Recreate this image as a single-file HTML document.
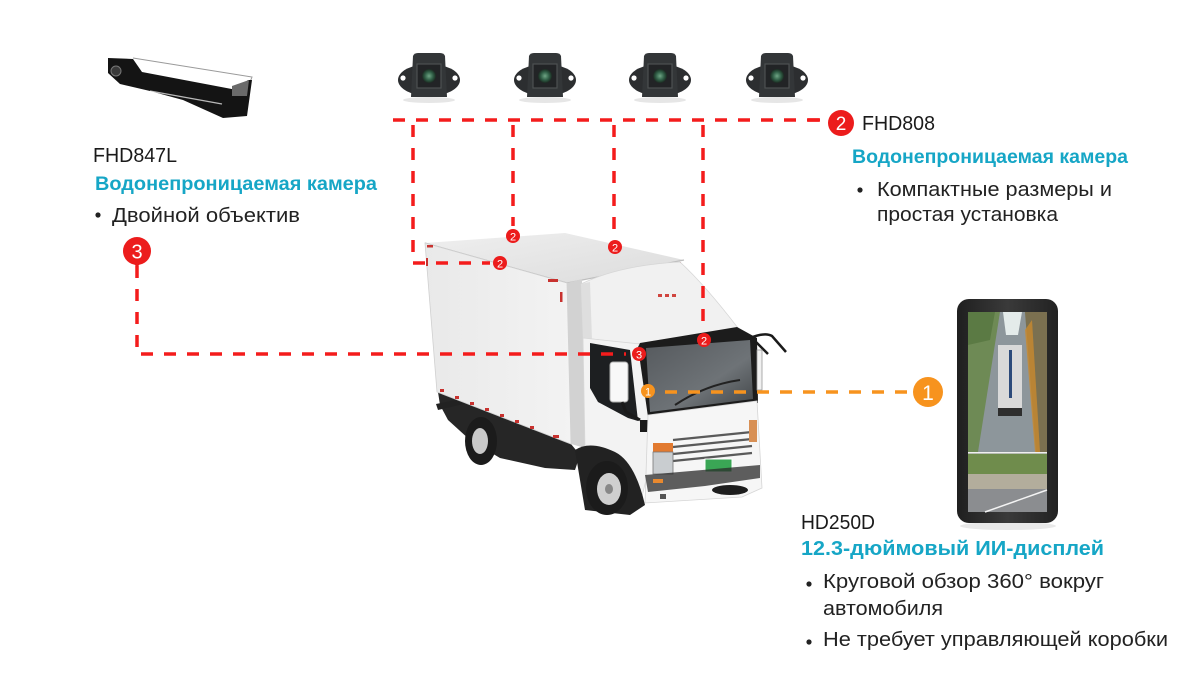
<!DOCTYPE html>
<html>
<head>
<meta charset="utf-8">
<style>
html,body{margin:0;padding:0;background:#fff;}
body{width:1200px;height:700px;overflow:hidden;position:relative;font-family:"Liberation Sans","DejaVu Sans",sans-serif;}
svg{position:absolute;left:0;top:0;}
</style>
</head>
<body>
<svg width="1200" height="700" viewBox="0 0 1200 700" xmlns="http://www.w3.org/2000/svg">
  <defs>
    <linearGradient id="boxside" x1="0" y1="0" x2="1" y2="0">
      <stop offset="0" stop-color="#e9e9e9"/>
      <stop offset="1" stop-color="#f3f3f3"/>
    </linearGradient>
    <linearGradient id="boxtop" x1="0" y1="0" x2="1" y2="1">
      <stop offset="0" stop-color="#efefef"/>
      <stop offset="1" stop-color="#dcdcdc"/>
    </linearGradient>
    <linearGradient id="wind" x1="0" y1="0" x2="1" y2="1">
      <stop offset="0" stop-color="#55595d"/>
      <stop offset="0.6" stop-color="#6e7377"/>
      <stop offset="1" stop-color="#3e4245"/>
    </linearGradient>
    <linearGradient id="disp" x1="0" y1="0" x2="1" y2="0">
      <stop offset="0" stop-color="#1f1f1f"/>
      <stop offset="0.5" stop-color="#3a3a3a"/>
      <stop offset="1" stop-color="#222"/>
    </linearGradient>
    <radialGradient id="lens">
      <stop offset="0" stop-color="#6fa585"/>
      <stop offset="0.6" stop-color="#2f5d45"/>
      <stop offset="1" stop-color="#1c2a22"/>
    </radialGradient>
  </defs>

  <!-- Top-left camera FHD847L -->
  <g>
    <path d="M133,58 L252,77 L250,82 L236,88" fill="#fff" stroke="#9a9a9a" stroke-width="1"/>
    <polygon points="108,58 133,59 142,72 237,90 248,80 252,80 247,116 223,118 183,100 150,91 120,84 108,73" fill="#141414"/>
    <polygon points="232,86 249,80 247,96 232,96" fill="#6a6a6a"/>
    <circle cx="116" cy="71" r="5" fill="#3a3a3a" stroke="#777" stroke-width="1"/>
    <line x1="150" y1="91" x2="222" y2="104" stroke="#fff" stroke-width="1.2" opacity="0.7"/>
  </g>

  <!-- Four FHD808 cameras -->
  <g id="cam">
    <ellipse cx="429" cy="100" rx="26" ry="3" fill="#e6e6e6"/>
    <ellipse cx="429" cy="80" rx="31" ry="16" fill="#2c2e30"/>
    <path d="M413,56 Q414,53 418,53 L440,53 Q444,53 445,56 L447,97 L411,97 Z" fill="#333638"/>
    <rect x="417" y="64" width="24" height="24" fill="#222426" stroke="#4d5052" stroke-width="1.2"/>
    <circle cx="429" cy="76" r="7" fill="url(#lens)"/>
    <circle cx="403" cy="78" r="2.6" fill="#fff"/>
    <circle cx="455" cy="78" r="2.6" fill="#fff"/>
  </g>
  <use href="#cam" x="116" y="0"/>
  <use href="#cam" x="231" y="0"/>
  <use href="#cam" x="348" y="0"/>

  <!-- TRUCK -->
  <g>
    <!-- chassis -->
    <polygon points="438,392 571,444 580,455 575,470 545,468 500,458 470,440 448,420 440,405" fill="#262626"/>
    <polygon points="436,404 466,398 468,403 438,410" fill="#222"/>
    <!-- rear wheel -->
    <ellipse cx="481" cy="441" rx="16" ry="24" fill="#1b1b1b"/>
    <ellipse cx="480" cy="441" rx="8" ry="13" fill="#c9c9c9"/>
    <!-- box top -->
    <polygon points="425,243 565,233 684,260 567,283" fill="url(#boxtop)"/>
    <polyline points="425,243 567,283 684,260" fill="none" stroke="#bdbdbd" stroke-width="1.2"/>
    <!-- box side -->
    <polygon points="425,243 567,283 571,444 437,392" fill="url(#boxside)" stroke="#d0d0d0" stroke-width="0.8"/>
    <!-- box front strip -->
    <polygon points="567,283 582,279 585,448 571,444" fill="#d2d2d2"/>
    <!-- red marker lights -->
    <g fill="#c8322f">
      <rect x="427" y="245" width="6" height="2.5"/>
      <rect x="548" y="279" width="10" height="3"/>
      <rect x="560" y="292" width="2.5" height="10"/>
      <rect x="426" y="258" width="2" height="8"/>
      <rect x="440" y="389" width="4" height="3"/>
      <rect x="455" y="396" width="4" height="3"/>
      <rect x="470" y="402" width="4" height="3"/>
      <rect x="485" y="408" width="4" height="3"/>
      <rect x="500" y="414" width="4" height="3"/>
      <rect x="515" y="420" width="4" height="3"/>
      <rect x="530" y="426" width="4" height="3"/>
      <rect x="553" y="435" width="6" height="3"/>
      <rect x="677" y="262" width="4" height="2.5"/>
    </g>
    <!-- cab spoiler -->
    <path d="M581,284 Q620,265 680,262 Q705,285 738,328 L636,344 L583,338 Z" fill="#f1f1f1" stroke="#d6d6d6" stroke-width="0.8"/>
    <polygon points="581,284 590,282 592,340 583,338" fill="#dedede"/>
    <g fill="#d0453f"><rect x="658" y="294" width="4" height="3"/><rect x="665" y="294" width="4" height="3"/><rect x="672" y="294" width="4" height="3"/></g>
    <!-- cab side -->
    <polygon points="583,338 640,344 650,413 646,480 640,505 600,478 585,448" fill="#f3f3f3" stroke="#d8d8d8" stroke-width="0.8"/>
    <!-- side window -->
    <polygon points="590,343 630,350 638,421 628,418 598,402 590,388" fill="#1d1f21"/>
    <!-- mirror -->
    <rect x="610" y="362" width="18" height="40" rx="3" fill="#f8f8f8" stroke="#b0b0b0" stroke-width="1"/>
    <path d="M622,402 L626,412 L640,420" stroke="#1a1a1a" stroke-width="3" fill="none"/>
    <rect x="640" y="420" width="10" height="12" fill="#1a1a1a"/>
    <!-- windshield frame and glass -->
    <polygon points="640,343 737,327 757,338 758,403 648,417 638,347" fill="#1c1c1c"/>
    <polygon points="646,348 750,340 753,399 650,412" fill="url(#wind)"/>
    <path d="M675,405 Q705,385 740,380" stroke="#222" stroke-width="2" fill="none"/>
    <!-- cab front lower -->
    <polygon points="648,415 757,401 762,488 742,497 645,503" fill="#f6f6f6" stroke="#d5d5d5" stroke-width="0.8"/>
    <!-- grille -->
    <g stroke="#5a5a5a" stroke-width="2.2">
      <line x1="673" y1="440" x2="752" y2="432"/>
      <line x1="673" y1="447" x2="752" y2="439"/>
      <line x1="673" y1="454" x2="752" y2="446"/>
      <line x1="673" y1="461" x2="752" y2="453"/>
    </g>
    <!-- headlights -->
    <rect x="653" y="443" width="20" height="9" fill="#e27a30"/>
    <rect x="653" y="452" width="20" height="22" fill="#c9cdd0" stroke="#777" stroke-width="0.8"/>
    <rect x="749" y="420" width="8" height="22" fill="#d89055"/>
    <!-- plate -->
    <rect x="705" y="459" width="27" height="13" fill="#3aa655" stroke="#fff" stroke-width="1"/>
    <!-- bumper -->
    <polygon points="645,475 760,465 760,478 705,486 648,492" fill="#2a2a2a" opacity="0.75"/>
    <rect x="660" y="494" width="6" height="5" fill="#555"/>
    <ellipse cx="730" cy="490" rx="18" ry="5" fill="#1d1d1d"/>
    <rect x="653" y="479" width="10" height="4" fill="#e8892f"/>
    <!-- front wheel arch + wheel -->
    <path d="M575,450 Q590,440 615,452 Q635,462 645,505 L630,515 L585,510 Z" fill="#222"/>
    <ellipse cx="607" cy="488" rx="21" ry="27" fill="#1b1b1b"/>
    <ellipse cx="609" cy="489" rx="12" ry="16" fill="#cfcfcf"/>
    <ellipse cx="609" cy="489" rx="4" ry="5" fill="#888"/>
    <!-- right mirrors -->
    <path d="M750,338 Q765,332 772,336 L786,352" stroke="#1a1a1a" stroke-width="2.5" fill="none"/>
    <path d="M755,341 L768,354" stroke="#1a1a1a" stroke-width="2.5" fill="none"/>
    <rect x="757" y="350" width="5" height="40" fill="#f0f0f0" stroke="#999" stroke-width="0.8"/>
  </g>

  <!-- DISPLAY HD250D -->
  <g>
    <ellipse cx="1008" cy="526" rx="48" ry="4" fill="#e8e8e8"/>
    <rect x="957" y="299" width="101" height="224" rx="12" fill="url(#disp)"/>
    <rect x="968" y="312" width="79" height="200" fill="#808a78"/>
    <!-- top view -->
    <polygon points="968,312 1000,312 980,452 968,452" fill="#6e8a55"/>
    <polygon points="968,312 995,312 990,340 968,345" fill="#5b7a44"/>
    <polygon points="1000,312 1025,312 1036,452 978,452" fill="#8d969b"/>
    <polygon points="1003,312 1022,312 1018,335 1006,335" fill="#e4ebea"/>
    <polygon points="1025,312 1047,312 1047,452 1036,452" fill="#7b7050"/>
    <polygon points="1025,330 1032,320 1040,452 1035,452" fill="#c98a2e" opacity="0.8"/>
    <rect x="998" y="345" width="24" height="68" fill="#d9d9d9"/>
    <rect x="1009" y="350" width="3" height="48" fill="#2c4a7a"/>
    <rect x="998" y="408" width="24" height="8" fill="#2e2e2e"/>
    <!-- bottom view -->
    <rect x="968" y="452" width="79" height="1.5" fill="#f0f0f0"/>
    <rect x="968" y="454" width="79" height="20" fill="#6f8c4c"/>
    <rect x="968" y="474" width="79" height="15" fill="#b3ad9c"/>
    <rect x="968" y="489" width="79" height="23" fill="#8b8d90"/>
    <line x1="985" y1="512" x2="1047" y2="490" stroke="#f4f4f4" stroke-width="1.5"/>
  </g>

  <!-- RED DASHED CONNECTORS -->
  <g stroke="#f41c1c" stroke-width="3.5" fill="none" stroke-dasharray="12 11">
    <line x1="393" y1="120" x2="826" y2="120"/>
    <polyline points="413,125 413,263 490,263"/>
    <line x1="513" y1="125" x2="513" y2="226"/>
    <line x1="614" y1="125" x2="614" y2="238"/>
    <line x1="703" y1="125" x2="703" y2="330"/>
    <polyline points="137,266 137,354 626,354"/>
  </g>
  <line x1="808" y1="120" x2="820" y2="120" stroke="#f41c1c" stroke-width="3.5"/>

  <!-- ORANGE DASHED -->
  <line x1="665" y1="392" x2="912" y2="392" stroke="#f7931e" stroke-width="3.5" stroke-dasharray="12 11"/>

  <!-- BADGES -->
  <g font-family="Liberation Sans, sans-serif" text-anchor="middle" fill="#fff">
    <circle cx="513" cy="236" r="7" fill="#ec1c1c"/>
    <text x="513" y="240.5" font-size="11">2</text>
    <circle cx="615" cy="247" r="7" fill="#ec1c1c"/>
    <text x="615" y="251.5" font-size="11">2</text>
    <circle cx="500" cy="263" r="7" fill="#ec1c1c"/>
    <text x="500" y="267.5" font-size="11">2</text>
    <circle cx="704" cy="340" r="7" fill="#ec1c1c"/>
    <text x="704" y="344.5" font-size="11">2</text>
    <circle cx="639" cy="354" r="7" fill="#ec1c1c"/>
    <text x="639" y="358.5" font-size="11">3</text>
    <circle cx="648" cy="391" r="7" fill="#f7931e"/>
    <text x="648" y="395.5" font-size="11">1</text>

    <circle cx="841" cy="123" r="13" fill="#ec1c1c"/>
    <text x="841" y="130" font-size="19">2</text>

    <path d="M133,262 L137,268 L141,262 Z" fill="#ec1c1c"/>
    <circle cx="137" cy="251" r="14" fill="#ec1c1c"/>
    <text x="137" y="258.5" font-size="20">3</text>

    <circle cx="928" cy="392" r="15" fill="#f7931e"/>
    <text x="928" y="400" font-size="21">1</text>
  </g>

  <!-- TEXT -->
  <g font-family="Liberation Sans, DejaVu Sans, sans-serif">
    <!-- left -->
    <text x="93" y="162" font-size="20" fill="#1a1a1a" textLength="84" lengthAdjust="spacingAndGlyphs">FHD847L</text>
    <text x="95" y="190" font-size="19" font-weight="bold" fill="#16a6c6" textLength="282" lengthAdjust="spacingAndGlyphs">Водонепроницаемая камера</text>
    <circle cx="98" cy="215" r="2.6" fill="#222"/>
    <text x="112" y="222" font-size="20" fill="#222" textLength="188" lengthAdjust="spacingAndGlyphs">Двойной объектив</text>

    <!-- right top -->
    <text x="862" y="130" font-size="20" fill="#1a1a1a" textLength="73" lengthAdjust="spacingAndGlyphs">FHD808</text>
    <text x="852" y="163" font-size="19" font-weight="bold" fill="#16a6c6" textLength="276" lengthAdjust="spacingAndGlyphs">Водонепроницаемая камера</text>
    <circle cx="860" cy="190" r="2.6" fill="#222"/>
    <text x="877" y="196" font-size="20" fill="#222" textLength="235" lengthAdjust="spacingAndGlyphs">Компактные размеры и</text>
    <text x="877" y="221" font-size="20" fill="#222" textLength="181" lengthAdjust="spacingAndGlyphs">простая установка</text>

    <!-- bottom right -->
    <text x="801" y="529" font-size="20" fill="#1a1a1a" textLength="74" lengthAdjust="spacingAndGlyphs">HD250D</text>
    <text x="801" y="555" font-size="20" font-weight="bold" fill="#16a6c6" textLength="303" lengthAdjust="spacingAndGlyphs">12.3-дюймовый ИИ-дисплей</text>
    <circle cx="809" cy="584" r="2.6" fill="#222"/>
    <text x="823" y="588" font-size="20" fill="#222" textLength="281" lengthAdjust="spacingAndGlyphs">Круговой обзор 360° вокруг</text>
    <text x="823" y="615" font-size="20" fill="#222" textLength="120" lengthAdjust="spacingAndGlyphs">автомобиля</text>
    <circle cx="809" cy="642" r="2.6" fill="#222"/>
    <text x="823" y="646" font-size="20" fill="#222" textLength="345" lengthAdjust="spacingAndGlyphs">Не требует управляющей коробки</text>
  </g>
</svg>
</body>
</html>
